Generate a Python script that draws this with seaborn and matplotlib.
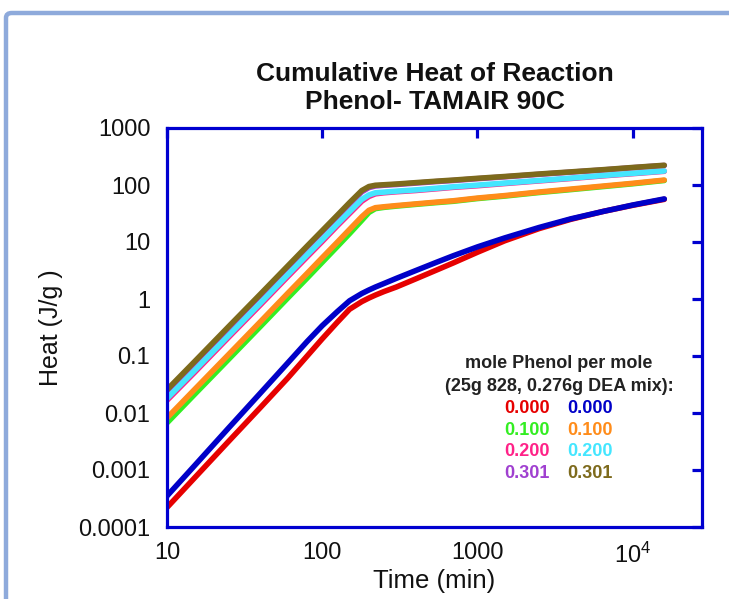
import pandas as pd
import seaborn as sns
import matplotlib.pyplot as plt
from matplotlib.patches import FancyBboxPatch
from matplotlib.ticker import NullLocator

# time axis shared by every run (min)
time_min = [10, 15, 25, 40, 60, 80, 100, 125, 150, 180, 200, 220, 250, 300, 400, 550, 700,
            1000, 1500, 2500, 4000, 6500, 10000, 16000]

# cumulative heat (J/g), first column of the key
heat_a_000 = [0.00022, 0.00072, 0.0032, 0.0125, 0.041, 0.1, 0.2, 0.39, 0.66, 0.9, 1.04, 1.17,
              1.35, 1.62, 2.25, 3.25, 4.3, 6.6, 10.5, 17.2, 25, 34.5, 44, 56]
heat_a_100 = [0.0067, 0.021, 0.088, 0.33, 1.04, 2.33, 4.4, 8.3, 14, 24, 33, 38.5,
              40.5, 42.6, 45.7, 49.2, 51.8, 57.8, 63.9, 73.8, 83, 94, 105, 120]
heat_a_200 = [0.0167, 0.051, 0.214, 0.79, 2.47, 5.5, 10.2, 19.2, 31.6, 52, 63, 70,
              73, 76, 80, 86, 91, 97, 106, 118, 130, 145, 158, 174]
heat_a_301 = [0.0243, 0.075, 0.31, 1.16, 3.6, 8.1, 15, 28, 46.5, 76, 90, 96,
              99, 102, 108, 115, 120, 129, 139, 154, 168, 184, 201, 220]
# second column of the key
heat_b_000 = [0.00035, 0.00118, 0.0055, 0.0224, 0.0756, 0.18, 0.34, 0.6, 0.93, 1.25, 1.44, 1.62,
              1.87, 2.3, 3.15, 4.45, 5.75, 8.2, 11.8, 18, 25.5, 34.5, 44.5, 57]
heat_b_100 = [0.0082, 0.0256, 0.107, 0.40, 1.26, 2.82, 5.3, 9.9, 16.6, 27.8, 36, 40,
              41.5, 43.5, 46.6, 50.2, 52.9, 59.0, 65.2, 75.3, 84.8, 96, 107, 122]
heat_b_200 = [0.018, 0.055, 0.23, 0.85, 2.66, 5.95, 11, 20.6, 34, 56, 67, 73,
              75, 77.9, 82, 88, 93, 99.5, 108, 120, 132, 147, 160, 176]
heat_b_301 = [0.0256, 0.079, 0.33, 1.22, 3.8, 8.5, 15.8, 29.4, 49, 80, 94, 99,
              101, 104, 110, 117, 122, 131, 141, 156, 170, 186, 203, 222]

key_labels = ["0.000", "0.100", "0.200", "0.301"]
colors_a = ["#e60000", "#33ee22", "#ff2288", "#a040d0"]
colors_b = ["#0000c8", "#ff8c1a", "#44e6ff", "#7d6a1c"]

runs = {
    "a 0.000": heat_a_000, "a 0.100": heat_a_100, "a 0.200": heat_a_200, "a 0.301": heat_a_301,
    "b 0.000": heat_b_000, "b 0.100": heat_b_100, "b 0.200": heat_b_200, "b 0.301": heat_b_301,
}
order = list(runs.keys())
palette = dict(zip(order, colors_a + colors_b))

rows = []
for name, vals in runs.items():
    for t, h in zip(time_min, vals):
        rows.append({"time": t, "heat": h, "run": name})
df = pd.DataFrame(rows)

sns.set_theme(style="white")
plt.rcParams["font.family"] = ["Liberation Sans", "DejaVu Sans"]
plt.rcParams["mathtext.fontset"] = "custom"
plt.rcParams["mathtext.rm"] = "Liberation Sans"

fig = plt.figure(figsize=(7.29, 5.99), dpi=100)
ax = fig.add_axes([167 / 729, 72 / 599, 535 / 729, 399 / 599])

sns.lineplot(data=df, x="time", y="heat", hue="run", hue_order=order, palette=palette,
             lw=4, legend=False, sort=False, estimator=None, ax=ax)

ax.set_xscale("log")
ax.set_yscale("log")
ax.set_xlim(10, 28000)
ax.set_ylim(1e-4, 1000)

blue = "#0000d0"
for s in ax.spines.values():
    s.set_color(blue)
    s.set_linewidth(2.3)

ax.set_xticks([10, 100, 1000, 10000])
ax.set_xticklabels(["10", "100", "1000", r"$\mathregular{10^4}$"])
ax.set_yticks([1e-4, 1e-3, 1e-2, 1e-1, 1, 10, 100, 1000])
ax.set_yticklabels(["0.0001", "0.001", "0.01", "0.1", "1", "10", "100", "1000"])
ax.xaxis.set_minor_locator(NullLocator())
ax.yaxis.set_minor_locator(NullLocator())
ax.tick_params(axis="both", which="major", direction="in", length=7, width=2.3, color=blue,
               top=True, right=True, labelsize=17, labelcolor="#111111")
ax.tick_params(axis="x", pad=11)
ax.tick_params(axis="y", pad=12)

ax.set_xlabel("Time (min)", fontsize=18.5, color="#111111")
ax.set_ylabel("Heat (J/g )", fontsize=18, color="#111111")
ax.xaxis.set_label_coords(0.5, -0.105)
ax.yaxis.set_label_coords(-0.194, 0.5)

ax.set_title("Cumulative Heat of Reaction\nPhenol- TAMAIR 90C", fontsize=19, fontweight="bold",
             color="#111111", pad=14, linespacing=1.2)

# key written as coloured text inside the plot
ax.text(0.733, 0.411, "mole Phenol per mole", transform=ax.transAxes, ha="center", va="center",
        fontsize=13, fontweight="bold", color="#222222")
ax.text(0.733, 0.351, "(25g 828, 0.276g DEA mix):", transform=ax.transAxes, ha="center", va="center",
        fontsize=13, fontweight="bold", color="#222222")
for i, lab in enumerate(key_labels):
    yy = 0.298 - i * 0.055
    ax.text(0.673, yy, lab, transform=ax.transAxes, ha="center", va="center",
            fontsize=13, fontweight="bold", color=colors_a[i])
    ax.text(0.791, yy, lab, transform=ax.transAxes, ha="center", va="center",
            fontsize=13, fontweight="bold", color=colors_b[i])

# slide frame around the chart
frame = FancyBboxPatch((6 / 729, -0.2), 1.3, 1.2 - 13 / 599,
                       boxstyle="round,pad=0,rounding_size=0.008", transform=fig.transFigure,
                       fill=False, edgecolor="#8eaadb", linewidth=3.2, clip_on=False)
fig.patches.append(frame)

fig.savefig("out.png", dpi=100)
